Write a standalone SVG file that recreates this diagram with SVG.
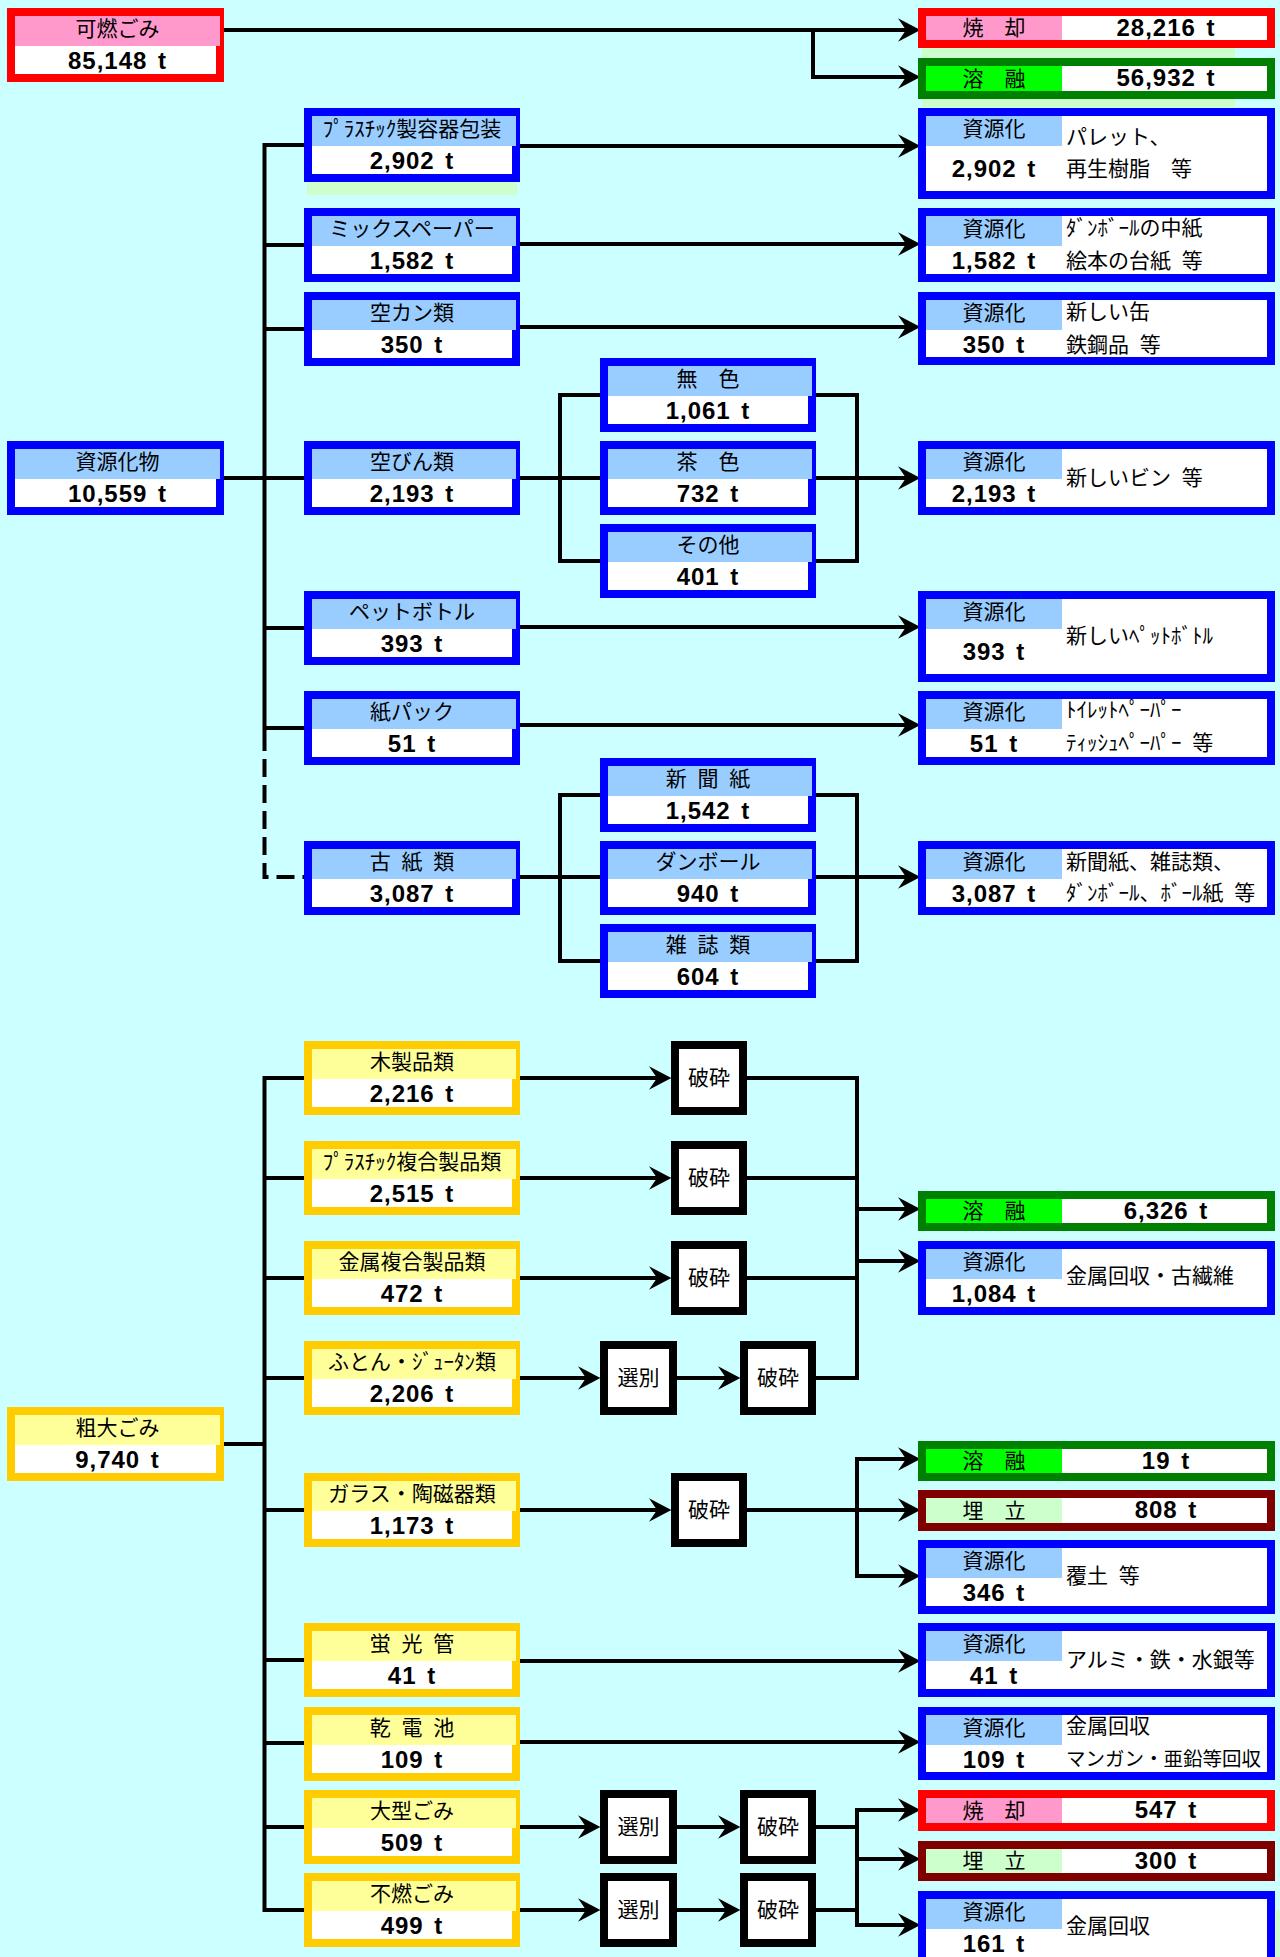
<svg xmlns="http://www.w3.org/2000/svg" width="1280" height="1957" viewBox="0 0 1280 1957">
<defs>
<style>
.c{fill:none;stroke:#000;stroke-width:4}
.a{marker-end:url(#ah)}
.d{stroke-dasharray:18 8}
.bR{fill:#fff;stroke:#FF0000;stroke-width:8}
.bB{fill:#fff;stroke:#0000FF;stroke-width:8}
.bY{fill:#fff;stroke:#FFCC00;stroke-width:8}
.bG{fill:#fff;stroke:#008000;stroke-width:8}
.bM{fill:#fff;stroke:#800000;stroke-width:8}
.bK{fill:#fff;stroke:#000;stroke-width:8}
.hR{fill:#FF99CC}.hB{fill:#99CCFF}.hY{fill:#FFFF99}.hG{fill:#00FF00}.hM{fill:#CCFFCC}
.j{font-family:"Noto Sans CJK JP",sans-serif;font-size:21px;fill:#000;word-spacing:6px}
.s{font-size:19.5px}
.m{text-anchor:middle}
.n{font-family:"Liberation Sans","Noto Sans CJK JP",sans-serif;font-size:24px;font-weight:bold;letter-spacing:1px;word-spacing:3px;text-anchor:middle;fill:#000}
</style>
<marker id="ah" markerUnits="userSpaceOnUse" markerWidth="24" markerHeight="26" viewBox="0 0 24 26" refX="18" refY="13" orient="auto">
<path d="M0,1.3 L22.4,13 L0,24.7 L8,13 Z" fill="#000"/>
</marker>
</defs>
<rect x="0" y="0" width="1280" height="1957" fill="#CCFFFF"/>
<g id="artifacts" fill="#CCFFCC">
<rect x="922" y="48" width="313" height="59"/>
<rect x="307" y="182" width="210" height="13"/>
<rect x="1276" y="1910" width="4" height="47"/>
</g>

<g id="connectors">
<path class="c a" d="M224,30 H916"/>
<path class="c a" d="M813,30 V77 H916"/>
<path class="c" d="M304,145 H264.5 V751"/>
<path class="c d" d="M264.5,759 V877 H304"/>
<path class="c" d="M264.5,245 H304 M264.5,329 H304 M224,478 H304 M264.5,628 H304 M264.5,728 H304"/>
<path class="c a" d="M520,146 H916"/>
<path class="c a" d="M520,244 H916"/>
<path class="c a" d="M520,327 H916"/>
<path class="c a" d="M520,627 H916"/>
<path class="c a" d="M520,725 H916"/>
<path class="c" d="M520,478 H560 M600,395 H560 V561 H600 M560,478 H600"/>
<path class="c" d="M816,395 H857 V561 H816"/>
<path class="c a" d="M816,478 H916"/>
<path class="c" d="M520,877 H560 M600,795 H560 V961 H600 M560,877 H600"/>
<path class="c" d="M816,795 H857 V961 H816"/>
<path class="c a" d="M816,877 H916"/>
<path class="c" d="M304,1078 H264.5 V1910 H304"/>
<path class="c" d="M264.5,1178 H304 M264.5,1278 H304 M264.5,1378 H304 M224,1444 H264.5 M264.5,1510 H304 M264.5,1660 H304 M264.5,1743 H304 M264.5,1827 H304"/>
<path class="c a" d="M520,1078 H667"/>
<path class="c a" d="M520,1178 H667"/>
<path class="c a" d="M520,1278 H667"/>
<path class="c a" d="M520,1378 H596"/>
<path class="c a" d="M677,1378 H736"/>
<path class="c" d="M747,1078 H857 V1378 H816 M747,1178 H857 M747,1278 H857"/>
<path class="c a" d="M857,1209 H916"/>
<path class="c a" d="M857,1261 H916"/>
<path class="c a" d="M520,1510 H667"/>
<path class="c" d="M747,1510 H857 M857,1457 V1578"/>
<path class="c a" d="M857,1459 H916"/>
<path class="c a" d="M857,1510 H916"/>
<path class="c a" d="M857,1576 H916"/>
<path class="c a" d="M520,1661 H916"/>
<path class="c a" d="M520,1742 H916"/>
<path class="c a" d="M520,1827 H596"/>
<path class="c a" d="M677,1827 H736"/>
<path class="c a" d="M520,1910 H596"/>
<path class="c a" d="M677,1910 H736"/>
<path class="c" d="M816,1827 H857 M816,1910 H857 M857,1808 V1927"/>
<path class="c a" d="M857,1810 H916"/>
<path class="c a" d="M857,1859 H916"/>
<path class="c a" d="M857,1925 H916"/>
</g>

<!-- left column -->
<g id="n-kanen"><rect class="bR" x="11" y="12" width="209" height="66"/><rect class="hR" x="15" y="16" width="205" height="30"/><text class="j m" x="117.5" y="35.5">可燃ごみ</text><text class="n" x="117.5" y="69">85,148 t</text></g>
<g id="n-shigenka"><rect class="bB" x="11" y="445" width="209" height="66"/><rect class="hB" x="15" y="449" width="205" height="30"/><text class="j m" x="117.5" y="468.5">資源化物</text><text class="n" x="117.5" y="502">10,559 t</text></g>
<g id="n-sodai"><rect class="bY" x="11" y="1411" width="209" height="66"/><rect class="hY" x="15" y="1415" width="205" height="30"/><text class="j m" x="117.5" y="1434.5">粗大ごみ</text><text class="n" x="117.5" y="1468">9,740 t</text></g>

<!-- middle column blue -->
<g id="n-pla"><rect class="bB" x="308" y="112" width="208" height="66"/><rect class="hB" x="312" y="116" width="204" height="30"/><text class="j m" x="412" y="135.5">ﾌﾟﾗｽﾁｯｸ製容器包装</text><text class="n" x="412" y="169">2,902 t</text></g>
<g id="n-mix"><rect class="bB" x="308" y="212" width="208" height="66"/><rect class="hB" x="312" y="216" width="204" height="30"/><text class="j m" x="412" y="235.5">ミックスペーパー</text><text class="n" x="412" y="269">1,582 t</text></g>
<g id="n-can"><rect class="bB" x="308" y="296" width="208" height="66"/><rect class="hB" x="312" y="300" width="204" height="30"/><text class="j m" x="412" y="319.5">空カン類</text><text class="n" x="412" y="353">350 t</text></g>
<g id="n-bin"><rect class="bB" x="308" y="445" width="208" height="66"/><rect class="hB" x="312" y="449" width="204" height="30"/><text class="j m" x="412" y="468.5">空びん類</text><text class="n" x="412" y="502">2,193 t</text></g>
<g id="n-pet"><rect class="bB" x="308" y="595" width="208" height="66"/><rect class="hB" x="312" y="599" width="204" height="30"/><text class="j m" x="412" y="618.5">ペットボトル</text><text class="n" x="412" y="652">393 t</text></g>
<g id="n-pack"><rect class="bB" x="308" y="695" width="208" height="66"/><rect class="hB" x="312" y="699" width="204" height="30"/><text class="j m" x="412" y="718.5">紙パック</text><text class="n" x="412" y="752">51 t</text></g>
<g id="n-koshi"><rect class="bB" x="308" y="845" width="208" height="66"/><rect class="hB" x="312" y="849" width="204" height="30"/><text class="j m" x="412" y="868.5">古 紙 類</text><text class="n" x="412" y="902">3,087 t</text></g>

<!-- colour boxes -->
<g id="n-mushoku"><rect class="bB" x="604" y="362" width="208" height="66"/><rect class="hB" x="608" y="366" width="204" height="30"/><text class="j m" x="708" y="385.5">無　色</text><text class="n" x="708" y="419">1,061 t</text></g>
<g id="n-chairo"><rect class="bB" x="604" y="445" width="208" height="66"/><rect class="hB" x="608" y="449" width="204" height="30"/><text class="j m" x="708" y="468.5">茶　色</text><text class="n" x="708" y="502">732 t</text></g>
<g id="n-sonota"><rect class="bB" x="604" y="528" width="208" height="66"/><rect class="hB" x="608" y="532" width="204" height="30"/><text class="j m" x="708" y="551.5">その他</text><text class="n" x="708" y="585">401 t</text></g>
<g id="n-shinbun"><rect class="bB" x="604" y="762" width="208" height="66"/><rect class="hB" x="608" y="766" width="204" height="30"/><text class="j m" x="708" y="785.5">新 聞 紙</text><text class="n" x="708" y="819">1,542 t</text></g>
<g id="n-danbo"><rect class="bB" x="604" y="845" width="208" height="66"/><rect class="hB" x="608" y="849" width="204" height="30"/><text class="j m" x="708" y="868.5">ダンボール</text><text class="n" x="708" y="902">940 t</text></g>
<g id="n-zasshi"><rect class="bB" x="604" y="928" width="208" height="66"/><rect class="hB" x="608" y="932" width="204" height="30"/><text class="j m" x="708" y="951.5">雑 誌 類</text><text class="n" x="708" y="985">604 t</text></g>

<!-- middle column yellow -->
<g id="n-moku"><rect class="bY" x="308" y="1045" width="208" height="66"/><rect class="hY" x="312" y="1049" width="204" height="30"/><text class="j m" x="412" y="1068.5">木製品類</text><text class="n" x="412" y="1102">2,216 t</text></g>
<g id="n-plafuku"><rect class="bY" x="308" y="1145" width="208" height="66"/><rect class="hY" x="312" y="1149" width="204" height="30"/><text class="j m" x="412" y="1168.5">ﾌﾟﾗｽﾁｯｸ複合製品類</text><text class="n" x="412" y="1202">2,515 t</text></g>
<g id="n-kinzoku"><rect class="bY" x="308" y="1245" width="208" height="66"/><rect class="hY" x="312" y="1249" width="204" height="30"/><text class="j m" x="412" y="1268.5">金属複合製品類</text><text class="n" x="412" y="1302">472 t</text></g>
<g id="n-futon"><rect class="bY" x="308" y="1345" width="208" height="66"/><rect class="hY" x="312" y="1349" width="204" height="30"/><text class="j m" x="412" y="1368.5">ふとん・ｼﾞｭｰﾀﾝ類</text><text class="n" x="412" y="1402">2,206 t</text></g>
<g id="n-glass"><rect class="bY" x="308" y="1477" width="208" height="66"/><rect class="hY" x="312" y="1481" width="204" height="30"/><text class="j m" x="412" y="1500.5">ガラス・陶磁器類</text><text class="n" x="412" y="1534">1,173 t</text></g>
<g id="n-keiko"><rect class="bY" x="308" y="1627" width="208" height="66"/><rect class="hY" x="312" y="1631" width="204" height="30"/><text class="j m" x="412" y="1650.5">蛍 光 管</text><text class="n" x="412" y="1684">41 t</text></g>
<g id="n-denchi"><rect class="bY" x="308" y="1711" width="208" height="66"/><rect class="hY" x="312" y="1715" width="204" height="30"/><text class="j m" x="412" y="1734.5">乾 電 池</text><text class="n" x="412" y="1768">109 t</text></g>
<g id="n-ogata"><rect class="bY" x="308" y="1794" width="208" height="66"/><rect class="hY" x="312" y="1798" width="204" height="30"/><text class="j m" x="412" y="1817.5">大型ごみ</text><text class="n" x="412" y="1851">509 t</text></g>
<g id="n-funen"><rect class="bY" x="308" y="1877" width="208" height="66"/><rect class="hY" x="312" y="1881" width="204" height="30"/><text class="j m" x="412" y="1900.5">不燃ごみ</text><text class="n" x="412" y="1934">499 t</text></g>

<!-- process boxes -->
<g id="p-hasai1"><rect class="bK" x="675" y="1045" width="68" height="66"/><text class="j m" x="709" y="1085">破砕</text></g>
<g id="p-hasai2"><rect class="bK" x="675" y="1145" width="68" height="66"/><text class="j m" x="709" y="1185">破砕</text></g>
<g id="p-hasai3"><rect class="bK" x="675" y="1245" width="68" height="66"/><text class="j m" x="709" y="1285">破砕</text></g>
<g id="p-senbetsu1"><rect class="bK" x="604" y="1345" width="69" height="66"/><text class="j m" x="638.5" y="1385">選別</text></g>
<g id="p-hasai4"><rect class="bK" x="744" y="1345" width="68" height="66"/><text class="j m" x="778" y="1385">破砕</text></g>
<g id="p-hasai5"><rect class="bK" x="675" y="1477" width="68" height="66"/><text class="j m" x="709" y="1517">破砕</text></g>
<g id="p-senbetsu2"><rect class="bK" x="604" y="1794" width="69" height="66"/><text class="j m" x="638.5" y="1834">選別</text></g>
<g id="p-hasai6"><rect class="bK" x="744" y="1794" width="68" height="66"/><text class="j m" x="778" y="1834">破砕</text></g>
<g id="p-senbetsu3"><rect class="bK" x="604" y="1877" width="69" height="66"/><text class="j m" x="638.5" y="1917">選別</text></g>
<g id="p-hasai7"><rect class="bK" x="744" y="1877" width="68" height="66"/><text class="j m" x="778" y="1917">破砕</text></g>

<!-- outputs short -->
<g id="o-shokyaku1"><rect class="bR" x="922" y="12" width="349" height="32"/><rect class="hR" x="926" y="16" width="136" height="24"/><text class="j m" x="994" y="35">焼　却</text><text class="n" x="1166" y="36">28,216 t</text></g>
<g id="o-yoyu1"><rect class="bG" x="922" y="62" width="349" height="33"/><rect class="hG" x="926" y="66" width="136" height="25"/><text class="j m" x="994" y="85.5">溶　融</text><text class="n" x="1166" y="86">56,932 t</text></g>
<g id="o-yoyu2"><rect class="bG" x="922" y="1195" width="349" height="32"/><rect class="hG" x="926" y="1199" width="136" height="24"/><text class="j m" x="994" y="1218">溶　融</text><text class="n" x="1166" y="1219">6,326 t</text></g>
<g id="o-yoyu3"><rect class="bG" x="922" y="1445" width="349" height="32"/><rect class="hG" x="926" y="1449" width="136" height="24"/><text class="j m" x="994" y="1468">溶　融</text><text class="n" x="1166" y="1469">19 t</text></g>
<g id="o-umetate1"><rect class="bM" x="922" y="1494" width="349" height="33"/><rect class="hM" x="926" y="1498" width="136" height="25"/><text class="j m" x="994" y="1517.5">埋　立</text><text class="n" x="1166" y="1518">808 t</text></g>
<g id="o-shokyaku2"><rect class="bR" x="922" y="1794" width="349" height="33"/><rect class="hR" x="926" y="1798" width="136" height="25"/><text class="j m" x="994" y="1817.5">焼　却</text><text class="n" x="1166" y="1818">547 t</text></g>
<g id="o-umetate2"><rect class="bM" x="922" y="1845" width="349" height="32"/><rect class="hM" x="926" y="1849" width="136" height="24"/><text class="j m" x="994" y="1868">埋　立</text><text class="n" x="1166" y="1869">300 t</text></g>

<!-- outputs 資源化 -->
<g id="o-r1"><rect class="bB" x="922" y="112" width="349" height="83"/><rect class="hB" x="926" y="116" width="136" height="30"/><text class="j m" x="994" y="135.5">資源化</text><text class="n" x="994" y="177">2,902 t</text><text class="j" x="1066" y="144">パレット、</text><text class="j" x="1066" y="176">再生樹脂　等</text></g>
<g id="o-r2"><rect class="bB" x="922" y="212" width="349" height="66"/><rect class="hB" x="926" y="216" width="136" height="30"/><text class="j m" x="994" y="235.5">資源化</text><text class="n" x="994" y="269">1,582 t</text><text class="j" x="1066" y="235">ﾀﾞﾝﾎﾞｰﾙの中紙</text><text class="j" x="1066" y="268">絵本の台紙 等</text></g>
<g id="o-r3"><rect class="bB" x="922" y="296" width="349" height="65"/><rect class="hB" x="926" y="300" width="136" height="30"/><text class="j m" x="994" y="319.5">資源化</text><text class="n" x="994" y="353">350 t</text><text class="j" x="1066" y="319">新しい缶</text><text class="j" x="1066" y="352">鉄鋼品 等</text></g>
<g id="o-r4"><rect class="bB" x="922" y="445" width="349" height="66"/><rect class="hB" x="926" y="449" width="136" height="30"/><text class="j m" x="994" y="468.5">資源化</text><text class="n" x="994" y="502">2,193 t</text><text class="j" x="1066" y="485">新しいビン 等</text></g>
<g id="o-r5"><rect class="bB" x="922" y="595" width="349" height="83"/><rect class="hB" x="926" y="599" width="136" height="30"/><text class="j m" x="994" y="618.5">資源化</text><text class="n" x="994" y="660">393 t</text><text class="j" x="1066" y="643">新しいﾍﾟｯﾄﾎﾞﾄﾙ</text></g>
<g id="o-r6"><rect class="bB" x="922" y="695" width="349" height="66"/><rect class="hB" x="926" y="699" width="136" height="30"/><text class="j m" x="994" y="718.5">資源化</text><text class="n" x="994" y="752">51 t</text><text class="j" x="1066" y="717">ﾄｲﾚｯﾄﾍﾟｰﾊﾟｰ</text><text class="j" x="1066" y="750">ﾃｨｯｼｭﾍﾟｰﾊﾟｰ 等</text></g>
<g id="o-r7"><rect class="bB" x="922" y="845" width="349" height="66"/><rect class="hB" x="926" y="849" width="136" height="30"/><text class="j m" x="994" y="868.5">資源化</text><text class="n" x="994" y="902">3,087 t</text><text class="j" x="1066" y="869">新聞紙、雑誌類、</text><text class="j" x="1066" y="900">ﾀﾞﾝﾎﾞｰﾙ、ﾎﾞｰﾙ紙 等</text></g>
<g id="o-r8"><rect class="bB" x="922" y="1245" width="349" height="66"/><rect class="hB" x="926" y="1249" width="136" height="30"/><text class="j m" x="994" y="1268.5">資源化</text><text class="n" x="994" y="1302">1,084 t</text><text class="j" x="1066" y="1283">金属回収・古繊維</text></g>
<g id="o-r9"><rect class="bB" x="922" y="1544" width="349" height="66"/><rect class="hB" x="926" y="1548" width="136" height="30"/><text class="j m" x="994" y="1567.5">資源化</text><text class="n" x="994" y="1601">346 t</text><text class="j" x="1066" y="1583">覆土 等</text></g>
<g id="o-r10"><rect class="bB" x="922" y="1627" width="349" height="66"/><rect class="hB" x="926" y="1631" width="136" height="30"/><text class="j m" x="994" y="1650.5">資源化</text><text class="n" x="994" y="1684">41 t</text><text class="j" x="1066" y="1667">アルミ・鉄・水銀等</text></g>
<g id="o-r11"><rect class="bB" x="922" y="1711" width="349" height="65"/><rect class="hB" x="926" y="1715" width="136" height="30"/><text class="j m" x="994" y="1734.5">資源化</text><text class="n" x="994" y="1768">109 t</text><text class="j" x="1066" y="1733">金属回収</text><text class="j s" x="1066" y="1766">マンガン・亜鉛等回収</text></g>
<g id="o-r12"><rect class="bB" x="922" y="1895" width="349" height="66"/><rect class="hB" x="926" y="1899" width="136" height="30"/><text class="j m" x="994" y="1918.5">資源化</text><text class="n" x="994" y="1952">161 t</text><text class="j" x="1066" y="1933">金属回収</text></g>
</svg>
